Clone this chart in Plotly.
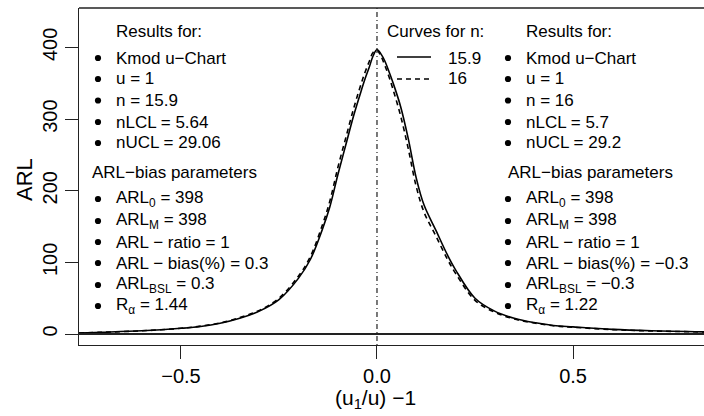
import plotly.graph_objects as go

# ---- data ----
x_vals = [-0.76, -0.7, -0.6, -0.5, -0.45, -0.4, -0.35, -0.3, -0.25, -0.2, -0.17, -0.14,
          -0.12, -0.1, -0.08, -0.06, -0.04, -0.03, -0.02, -0.01, 0.0, 0.01, 0.02, 0.03,
          0.04, 0.06, 0.08, 0.1, 0.12, 0.15, 0.18, 0.2, 0.25, 0.3, 0.35, 0.4, 0.45, 0.5,
          0.6, 0.7, 0.84]
arl_n159 = [1.5, 2.5, 4.5, 8, 10.5, 15, 22, 32, 48, 78, 104, 145,
            178, 222, 263, 304, 340, 357, 372, 388, 397, 391, 381, 367,
            352, 318, 272, 218, 180, 145, 110, 90, 50, 32, 22, 16, 12, 10,
            6.5, 4.5, 3]
arl_n16 = [1.5, 2.5, 4.5, 8, 11, 15.5, 23, 33, 50, 81, 108, 151,
           186, 232, 273, 314, 350, 366, 380, 393, 396, 388, 375, 360,
           343, 305, 258, 206, 170, 137, 104, 85, 47, 30.5, 21, 15.5, 11.5, 9.5,
           6.2, 4.3, 2.9]
curve_labels = ["15.9", "16"]

x_ticks = [-0.5, 0.0, 0.5]
x_tick_text = ["\u22120.5", "0.0", "0.5"]
y_ticks = [0, 100, 200, 300, 400]

left_lines = ["Kmod u\u2212Chart", "u = 1", "n = 15.9", "nLCL = 5.64", "nUCL = 29.06"]
left_bias = ["ARL<sub>0</sub> = 398", "ARL<sub>M</sub> = 398", "ARL \u2212 ratio = 1",
             "ARL \u2212 bias(%) = 0.3", "ARL<sub>BSL</sub> = 0.3", "R<sub>\u03b1</sub> = 1.44"]
right_lines = ["Kmod u\u2212Chart", "u = 1", "n = 16", "nLCL = 5.7", "nUCL = 29.2"]
right_bias = ["ARL<sub>0</sub> = 398", "ARL<sub>M</sub> = 398", "ARL \u2212 ratio = 1",
              "ARL \u2212 bias(%) = \u22120.3", "ARL<sub>BSL</sub> = \u22120.3", "R<sub>\u03b1</sub> = 1.22"]

# ---- layout geometry (pixels) ----
W, H = 704, 416
L, T, B, R = 79, 8, 71, 0
PW, PH = W - L - R, H - T - B
FONT = "Liberation Sans, Arial, sans-serif"

def fx(px):
    return (px - L) / PW

def fy(py):
    return (H - B - py) / PH

fig = go.Figure()
fig.add_trace(go.Scatter(x=x_vals, y=arl_n16, mode="lines", line=dict(color="black", width=1.6, dash="5px,4px", shape="spline"), showlegend=False))
fig.add_trace(go.Scatter(x=x_vals, y=arl_n159, mode="lines", line=dict(color="black", width=1.6, shape="spline"), showlegend=False))

shapes = []
shapes.append(dict(type="line", xref="paper", yref="y", x0=0, x1=1, y0=0, y1=0, line=dict(color="#222", width=2)))
shapes.append(dict(type="line", xref="x", yref="paper", x0=0, x1=0, y0=0, y1=1, line=dict(color="#222", width=1.2, dash="1px,3px,5px,3px")))
shapes.append(dict(type="line", xref="paper", yref="paper", x0=0, x1=1, y0=1, y1=1, line=dict(color="#222", width=1.3)))
shapes.append(dict(type="line", xref="paper", yref="paper", x0=fx(397), x1=fx(431), y0=fy(57), y1=fy(57), line=dict(color="black", width=1.4)))
shapes.append(dict(type="line", xref="paper", yref="paper", x0=fx(397), x1=fx(431), y0=fy(79), y1=fy(79), line=dict(color="black", width=1.4, dash="5px,4px")))

ann = []
def txt(px, py, s, size=17, anchor="left"):
    ann.append(dict(xref="paper", yref="paper", x=fx(px), y=fy(py), text=s, showarrow=False,
                    xanchor=anchor, yanchor="middle", font=dict(family=FONT, size=size, color="black")))

def bullet(px, py, r=3.1):
    shapes.append(dict(type="circle", xref="paper", yref="paper",
                       x0=fx(px - r), x1=fx(px + r), y0=fy(py + r), y1=fy(py - r),
                       fillcolor="black", line=dict(color="black", width=0)))

txt(385, 31, "Curves for n:")
txt(446, 58, curve_labels[0])
txt(446, 79, curve_labels[1])

def block(bx, tx, hx, lines, bias):
    txt(tx, 31, "Results for:")
    ys = [58, 79, 100.5, 122, 143]
    for yy, s in zip(ys, lines):
        bullet(bx, yy)
        txt(tx, yy, s)
    txt(hx, 172, "ARL\u2212bias parameters")
    ys2 = [199, 221, 242, 263, 285, 306]
    for yy, s in zip(ys2, bias):
        bullet(bx, yy)
        txt(tx, yy, s)

block(98, 114, 90, left_lines, left_bias)
block(508, 524, 506, right_lines, right_bias)

ann.append(dict(xref="paper", yref="paper", x=fx(375), y=fy(399), text="(u<sub>1</sub>/u) \u22121", showarrow=False,
                xanchor="center", yanchor="middle", font=dict(family=FONT, size=21, color="black")))
ann.append(dict(xref="paper", yref="paper", x=fx(24), y=fy(180), text="ARL", showarrow=False, textangle=-90,
                xanchor="center", yanchor="middle", font=dict(family=FONT, size=22, color="black")))

fig.update_layout(
    width=W, height=H, margin=dict(l=L, r=R, t=T, b=B, autoexpand=False),
    plot_bgcolor="white", paper_bgcolor="white",
    shapes=shapes, annotations=ann,
    xaxis=dict(range=[-0.760, 0.834], tickvals=x_ticks, ticktext=x_tick_text, showgrid=False, zeroline=False,
               automargin=False,
               showline=True, linecolor="#222", linewidth=1.3, ticks="outside", ticklen=13, tickwidth=1.3, tickcolor="#222",
               tickfont=dict(family=FONT, size=20, color="black")),
    yaxis=dict(range=[-15.3, 455], tickvals=y_ticks, showgrid=False, zeroline=False,
               automargin=False,
               showline=True, linecolor="#222", linewidth=1.3, ticks="outside", ticklen=13, tickwidth=1.3, tickcolor="#222",
               tickangle=-90, tickfont=dict(family=FONT, size=20, color="black")),
)

fig.write_html("out.html", config={"displayModeBar": False},
               post_script="document.body.style.margin='0';document.body.style.overflow='hidden';")
